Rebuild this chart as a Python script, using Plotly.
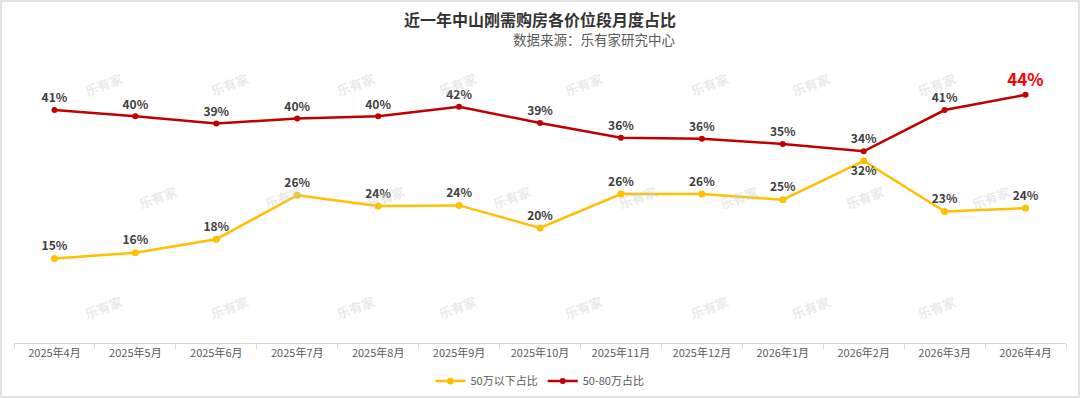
import plotly.graph_objects as go

months = ["2025年4月", "2025年5月", "2025年6月", "2025年7月", "2025年8月", "2025年9月",
          "2025年10月", "2025年11月", "2025年12月", "2026年1月", "2026年2月", "2026年3月", "2026年4月"]
under50 = [15.0, 16.0, 18.4, 26.2, 24.3, 24.4, 20.4, 26.4, 26.4, 25.4, 32.3, 23.3, 23.9]
mid50_80 = [41.3, 40.2, 38.9, 39.8, 40.2, 41.9, 39.0, 36.4, 36.2, 35.3, 34.0, 41.3, 44.0]

name_under = "50万以下占比"
name_mid = "50-80万占比"

FONT = "Noto Sans CJK SC"
W, H = 1080, 398
ml, mr, mt, mb = 14, 14, 61, 55

fig = go.Figure()

u_pos = ["bottom center" if i == 10 else "top center" for i in range(len(under50))]
fig.add_trace(go.Scatter(
    x=months, y=under50, name=name_under, mode="lines+markers+text",
    line=dict(color="#FFC000", width=2.5),
    marker=dict(color="#FFC000", size=7),
    text=[f"{round(v)}%" for v in under50], textposition=u_pos,
    textfont=dict(family=FONT, size=12, color="#404040", weight="bold"),
    cliponaxis=False,
))

m_colors = ["#404040"] * (len(mid50_80) - 1) + ["#FF0000"]
m_sizes = [12] * (len(mid50_80) - 1) + [17]
fig.add_trace(go.Scatter(
    x=months, y=mid50_80, name=name_mid, mode="lines+markers+text",
    line=dict(color="#C00000", width=2.5),
    marker=dict(color="#C00000", size=6),
    text=[f"{round(v)}%" for v in mid50_80], textposition="top center",
    textfont=dict(family=FONT, size=m_sizes, color=m_colors, weight="bold"),
    cliponaxis=False,
))

# watermarks
pw = W - ml - mr
ph = H - mt - mb
annotations = []
def px_to_paper(x, y):
    return (x - ml) / pw, (H - mb - y) / ph

for row_y, x0 in [(66, 79), (197, 133), (326, 79)]:
    for k in range(8):
        x = x0 + 126 * k
        if x > 1060:
            continue
        px, py = px_to_paper(x, row_y)
        annotations.append(dict(
            x=px, y=py, xref="paper", yref="paper", text="乐有家", showarrow=False,
            textangle=-20, font=dict(family=FONT, size=13, color="rgba(205,205,205,0.45)", weight="bold"),
        ))

tx, ty = px_to_paper(540, 19)
annotations.append(dict(x=tx, y=ty, xref="paper", yref="paper", showarrow=False,
                        text="近一年中山刚需购房各价位段月度占比", xanchor="center", yanchor="middle",
                        font=dict(family=FONT, size=16, color="#333333", weight="bold")))
sx, sy = px_to_paper(678, 39)
annotations.append(dict(x=sx, y=sy, xref="paper", yref="paper", showarrow=False,
                        text="数据来源：乐有家研究中心", xanchor="right", yanchor="middle",
                        font=dict(family=FONT, size=13.5, color="#595959")))

bx0, by0 = px_to_paper(1, H - 1)
bx1, by1 = px_to_paper(W - 1, 1)
lx, ly = px_to_paper(540, 381)

fig.update_layout(
    width=W, height=H,
    margin=dict(l=ml, r=mr, t=mt, b=mb, autoexpand=False),
    paper_bgcolor="white", plot_bgcolor="white",
    showlegend=True,
    legend=dict(orientation="h", x=lx, xanchor="center", y=ly, yanchor="middle",
                font=dict(family=FONT, size=11, color="#595959"), itemwidth=30),
    xaxis=dict(type="category", range=[-0.5, 12.5], showline=True, linecolor="#D9D9D9",
               ticks="outside", tickson="boundaries", ticklen=5, tickcolor="#D9D9D9",
               tickfont=dict(family=FONT, size=11, color="#595959"), showgrid=False, zeroline=False,
               automargin=False),
    yaxis=dict(range=[0, 50], visible=False, showgrid=False, zeroline=False, automargin=False),
    annotations=annotations,
    shapes=[dict(type="rect", xref="paper", yref="paper", x0=bx0, y0=by0, x1=bx1, y1=by1,
                 line=dict(color="#D9D9D9", width=1.5), layer="below")],
    font=dict(family=FONT),
)

fig.write_html("out.html", config={"displayModeBar": False},
               post_script="document.body.style.margin='0';document.body.style.padding='0';document.body.style.overflow='hidden';")
